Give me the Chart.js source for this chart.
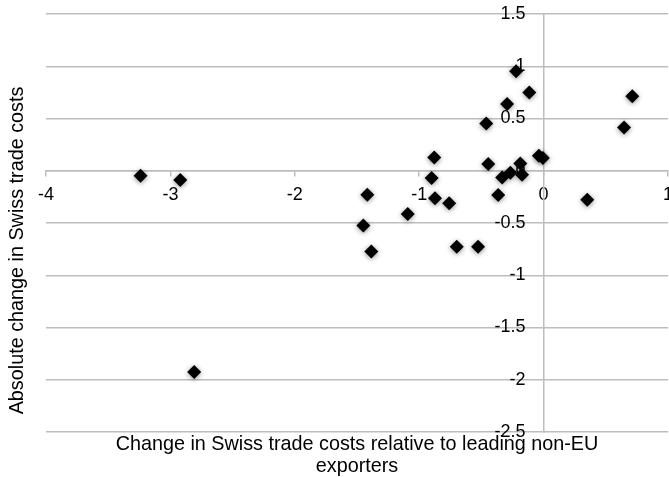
<!DOCTYPE html>
<html>
<head>
<meta charset="utf-8">
<script src="https://cdn.jsdelivr.net/npm/chart.js@4.4.1/dist/chart.umd.min.js"></script>
<style>
  html, body { margin: 0; padding: 0; overflow: hidden; background: #fff; }
  #wrap { width: 675px; height: 477px; }
</style>
</head>
<body>
<div id="wrap"><canvas id="trade"></canvas></div>
<script>
// change relative to leading non-EU exporters (x) vs absolute change (y)
const relChange = [-0.221, -0.115, -0.293, -0.461, 0.713, 0.647, -0.879, -0.445, -0.038, -0.006,
                   -0.187, -0.900, -0.267, -0.333, -0.173, -1.417, -0.873, -0.759, -0.365, 0.351,
                   -1.092, -1.449, -1.385, -0.698, -0.527, -3.240, -2.921, -2.809];
const absChange = [0.952, 0.750, 0.639, 0.453, 0.712, 0.415, 0.127, 0.064, 0.144, 0.122,
                   0.070, -0.070, -0.019, -0.064, -0.038, -0.230, -0.262, -0.310, -0.233, -0.278,
                   -0.415, -0.524, -0.773, -0.728, -0.728, -0.048, -0.089, -1.926];
const xTicks = [-4, -3, -2, -1, 0, 1];
const yTicks = [-2.5, -2, -1.5, -1, -0.5, 0, 0.5, 1, 1.5];
const xTitle = ['Change in Swiss trade costs relative to leading non-EU', 'exporters'];
const yTitle = 'Absolute change in Swiss trade costs';

const gray = '#bdbdbd';
const tickFont = { family: '"Liberation Sans", Arial, sans-serif', size: 18 };
const titleFont = '19.8px "Liberation Sans", Arial, sans-serif';

// soft shadow round the diamonds
const markerShadow = {
  id: 'markerShadow',
  beforeDatasetsDraw(chart) {
    const c = chart.ctx;
    c.save();
    c.shadowColor = 'rgba(0,0,0,0.45)';
    c.shadowBlur = 5;
    c.shadowOffsetY = 1;
  },
  afterDatasetsDraw(chart) {
    chart.ctx.restore();
  }
};

// axis titles sit at the canvas edges, not next to the centred axes
const axisTitles = {
  id: 'axisTitles',
  afterDraw(chart) {
    const c = chart.ctx;
    const area = chart.chartArea;
    const cx = (area.left + area.right) / 2;
    c.save();
    c.fillStyle = '#000';
    c.font = titleFont;
    c.textAlign = 'center';
    c.textBaseline = 'alphabetic';
    c.fillText(xTitle[0], cx, area.bottom + 18);
    c.fillText(xTitle[1], cx, area.bottom + 40);
    c.translate(23, 250.5);
    c.rotate(-Math.PI / 2);
    c.fillText(yTitle, 0, 0);
    c.restore();
  }
};

const ctx = document.getElementById('trade').getContext('2d');
new Chart(ctx, {
  type: 'scatter',
  data: {
    datasets: [{
      data: relChange.map((x, i) => ({ x: x, y: absChange[i] })),
      pointStyle: 'rectRot',
      pointRadius: 7,
      backgroundColor: '#000',
      borderColor: '#000',
      borderWidth: 0
    }]
  },
  options: {
    responsive: true,
    maintainAspectRatio: false,
    animation: false,
    layout: { padding: { left: 46, right: 3, top: 14, bottom: 45 } },
    plugins: {
      legend: { display: false },
      tooltip: { enabled: false }
    },
    scales: {
      x: {
        type: 'linear',
        min: -4,
        max: 1,
        position: { y: 0 },
        afterBuildTicks: s => { s.ticks = xTicks.map(v => ({ value: v })); },
        afterFit: s => { s.paddingLeft = 0; s.paddingRight = 0; },
        grid: { drawOnChartArea: false, drawTicks: true, tickLength: 5, color: gray, lineWidth: 1.5 },
        border: { color: gray, width: 1.5 },
        ticks: { padding: 8, color: '#000', font: tickFont, maxRotation: 0, autoSkip: false,
                 callback: v => String(v) }
      },
      y: {
        type: 'linear',
        min: -2.5,
        max: 1.5,
        position: { x: 0 },
        afterBuildTicks: s => { s.ticks = yTicks.map(v => ({ value: v })); },
        afterFit: s => { s.paddingTop = 0; s.paddingBottom = 0; },
        grid: { drawTicks: false, color: gray, lineWidth: 1.5 },
        border: { color: gray, width: 1.5 },
        ticks: { display: false }
      },
      // labels only: a centred axis ignores tick padding, so they get their own axis a bit left of 0
      yLabels: {
        axis: 'y',
        type: 'linear',
        min: -2.5,
        max: 1.5,
        position: { x: -0.145 },
        afterBuildTicks: s => { s.ticks = yTicks.map(v => ({ value: v })); },
        afterFit: s => { s.paddingTop = 0; s.paddingBottom = 0; },
        grid: { display: false },
        border: { display: false },
        ticks: { color: '#000', font: tickFont, autoSkip: false, callback: v => String(v) }
      }
    }
  },
  plugins: [markerShadow, axisTitles]
});
</script>
</body>
</html>
